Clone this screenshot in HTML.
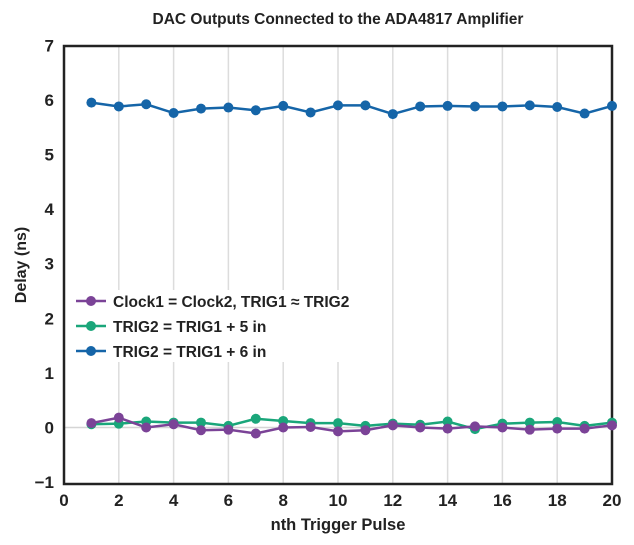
<!DOCTYPE html>
<html><head><style>body{margin:0;background:#fff}svg{display:block}text{font-family:"Liberation Sans",sans-serif;font-weight:bold;fill:#222}</style></head>
<body>
<svg width="634" height="545" xmlns="http://www.w3.org/2000/svg">
<text x="338" y="24" font-size="15.5" text-anchor="middle">DAC Outputs Connected to the ADA4817 Amplifier</text>
<g stroke="#dcdcdc" stroke-width="1.5" id="g"></g>
<line x1="64" y1="427.5" x2="612" y2="427.5" stroke="#d5d5d5" stroke-width="1.5"/>
<rect x="64" y="46" width="548" height="438" fill="none" stroke="#222" stroke-width="2.5"/>
<g id="ax" font-size="17"></g>
<text x="338" y="530" font-size="16.5" text-anchor="middle">nth Trigger Pulse</text>
<text transform="translate(26,265) rotate(-90)" font-size="16" text-anchor="middle">Delay (ns)</text>
<g id="s"></g>
<rect x="70" y="290" width="292" height="72" fill="#fff"/>
<g font-size="15.5">
<line x1="76" y1="301" x2="106" y2="301" stroke="#7b4397" stroke-width="2.5"/><circle cx="91" cy="301" r="5" fill="#7b4397"/>
<text x="113" y="307">Clock1 = Clock2, TRIG1 ≈ TRIG2</text>
<line x1="76" y1="326" x2="106" y2="326" stroke="#1aa67a" stroke-width="2.5"/><circle cx="91" cy="326" r="5" fill="#1aa67a"/>
<text x="113" y="332">TRIG2 = TRIG1 + 5 in</text>
<line x1="76" y1="351" x2="106" y2="351" stroke="#1565a8" stroke-width="2.5"/><circle cx="91" cy="351" r="5" fill="#1565a8"/>
<text x="113" y="357">TRIG2 = TRIG1 + 6 in</text>
</g>
</svg>
<script>
const NS="http://www.w3.org/2000/svg";
const px=x=>64+27.4*x, py=y=>427.5-54.6*y;
function el(t,a,p,txt){const e=document.createElementNS(NS,t);for(const k in a)e.setAttribute(k,a[k]);if(txt!==undefined)e.textContent=txt;document.getElementById(p).appendChild(e);}
for(let i=2;i<20;i+=2)el("line",{x1:px(i),x2:px(i),y1:47,y2:483},"g");
for(let i=0;i<=20;i+=2)el("text",{x:px(i),y:506,"text-anchor":"middle"},"ax",i);
for(let v=-1;v<=7;v++)el("text",{x:54,y:py(v)+6,"text-anchor":"end"},"ax",v===-1?"−1":v);
const S=[["#1565a8",[5.95,5.88,5.92,5.76,5.84,5.86,5.81,5.89,5.77,5.90,5.90,5.74,5.88,5.89,5.88,5.88,5.90,5.87,5.75,5.89]],
["#1aa67a",[0.06,0.07,0.11,0.09,0.09,0.03,0.16,0.12,0.08,0.08,0.03,0.07,0.05,0.11,-0.03,0.07,0.09,0.10,0.03,0.09]],
["#7b4397",[0.08,0.18,0.00,0.06,-0.05,-0.04,-0.11,0.00,0.01,-0.07,-0.05,0.04,0.00,-0.02,0.02,0.00,-0.04,-0.02,-0.02,0.04]]];
for(const [c,d] of S){el("polyline",{points:d.map((v,i)=>px(i+1)+","+py(v)).join(" "),fill:"none",stroke:c,"stroke-width":2.5},"s");
d.forEach((v,i)=>el("circle",{cx:px(i+1),cy:py(v),r:5,fill:c},"s"));}
</script>
</body></html>
